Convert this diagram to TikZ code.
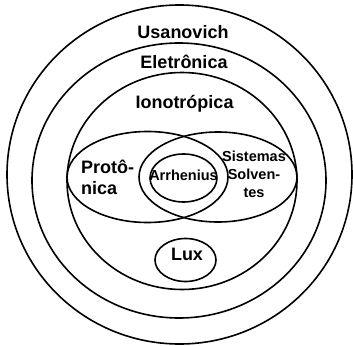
\documentclass[tikz,border=0pt]{standalone}
\usepackage{fontspec}
\setmainfont{Liberation Sans}
\begin{document}
\begin{tikzpicture}[x=1pt,y=-1pt,
  ring/.style={draw=black,line width=1.6pt},
  big/.style={font=\bfseries\fontsize{18}{21}\selectfont,inner sep=0pt},
  small/.style={font=\bfseries\fontsize{14.5}{18}\selectfont,inner sep=0pt,align=center}]
\useasboundingbox (0,0) rectangle (353,345);
\draw[ring] (179.5,174.5) ellipse [x radius=172.5, y radius=169.5];
\draw[ring] (179,180.5) ellipse [x radius=147, y radius=137.5];
\draw[ring] (182,181) ellipse [x radius=115, y radius=108.5];
\draw[ring] (147.5,177) ellipse [x radius=80.5, y radius=45.5];
\draw[ring] (218,177) ellipse [x radius=79, y radius=45];
\draw[ring] (183.5,178) ellipse [x radius=33.5, y radius=24];
\draw[ring] (185.5,260) ellipse [x radius=30.5, y radius=21.5];
\node[big] (usa) at (183,32) {Usanovich};
\node[big] (ele) at (184,62) {Eletrônica};
\node[big] (ion) at (184.5,104) {Ionotrópica};
\node[big,align=left,anchor=west] (pro) at (81,177) {Protô-\\nica};
\node[small] (sis) at (254,174) {Sistemas\\Solven-\\tes};
\node[small] (arr) at (183.5,175) {Arrhenius};
\node[big] (lux) at (187,254) {Lux};
\end{tikzpicture}
\end{document}
